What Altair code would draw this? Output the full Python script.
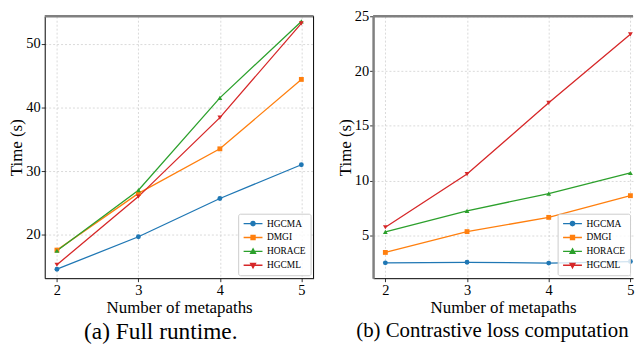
import altair as alt
import pandas as pd

# ---------------- data ----------------
metapaths = [2, 3, 4, 5]
methods = ["HGCMA", "DMGI", "HORACE", "HGCML"]

full_hgcma = [14.6, 19.7, 25.7, 31.0]
full_dmgi = [17.6, 26.5, 33.5, 44.4]
full_horace = [17.5, 27.0, 41.5, 53.5]
full_hgcml = [15.3, 26.0, 38.4, 53.2]

loss_hgcma = [2.50, 2.55, 2.48, 2.62]
loss_dmgi = [3.45, 5.35, 6.65, 8.63]
loss_horace = [5.32, 7.25, 8.82, 10.70]
loss_hgcml = [5.75, 10.60, 17.10, 23.35]

left_yticks = [20, 30, 40, 50]
right_yticks = [5, 10, 15, 20, 25]

colors = ["#1f77b4", "#ff7f0e", "#2ca02c", "#d62728"]
marker_shapes = ["circle", "square", "triangle-up", "triangle-down"]
legend_shapes = [
    "M-1.9,0H1.9M0.42,0A0.42,0.42,0,1,1,-0.42,0A0.42,0.42,0,1,1,0.42,0Z",
    "M-1.9,0H1.9M-0.4,-0.4H0.4V0.4H-0.4Z",
    "M-1.9,0H1.9M0,-0.5L0.48,0.38H-0.48Z",
    "M-1.9,0H1.9M0,0.5L0.48,-0.38H-0.48Z",
]

FONT = "Liberation Serif"
PLOT_H = 264


def make_df(series_lists):
    rows = []
    for m, vals in zip(methods, series_lists):
        for x, v in zip(metapaths, vals):
            rows.append({"x": x, "time": v, "series": m, "method": m})
    return pd.DataFrame(rows)


def panel(df, xdomain, ydomain, yticks, width, caption, cap_size, cap_anchor,
          cap_dx, ydom_color, ydom_width, right_spine):
    base = alt.Chart(df)
    x = alt.X("x:Q", scale=alt.Scale(domain=xdomain, nice=False, zero=False),
              axis=alt.Axis(values=metapaths, format="d", title="Number of metapaths",
                            titlePadding=3))
    y = alt.Y("time:Q", scale=alt.Scale(domain=ydomain, nice=False, zero=False),
              axis=alt.Axis(values=yticks, title="Time (s)", domainColor=ydom_color,
                            domainWidth=ydom_width, titlePadding=0, labelPadding=1))
    color = alt.Color("series:N", scale=alt.Scale(domain=methods, range=colors), legend=None)
    lines = base.mark_line(strokeWidth=1.3).encode(x=x, y=y, color=color)
    points = base.mark_point(filled=True, size=24, opacity=1).encode(
        x=x, y=y, color=color,
        shape=alt.Shape("series:N", scale=alt.Scale(domain=methods, range=marker_shapes), legend=None),
    )
    leg = alt.Legend(
        title=None, orient="bottom-right", offset=3, padding=4,
        symbolSize=100, symbolStrokeWidth=1.4, symbolOpacity=1, symbolOffset=5,
        labelFont=FONT, labelFontSize=9.5, labelColor="black", labelOffset=8,
        rowPadding=3, fillColor="rgba(255,255,255,0.8)", strokeColor="#cccccc",
        cornerRadius=2,
    )
    legend_layer = base.mark_point(filled=True, opacity=0).encode(
        x=x, y=y,
        fill=alt.Fill("method:N", scale=alt.Scale(domain=methods, range=colors), legend=leg),
        stroke=alt.Stroke("method:N", scale=alt.Scale(domain=methods, range=colors), legend=leg),
        shape=alt.Shape("method:N", scale=alt.Scale(domain=methods, range=legend_shapes), legend=leg),
    )
    frame = alt.Chart(alt.Data(values=[{}]))
    top = frame.mark_rule(color="#808080", strokeWidth=2.5).encode(y=alt.value(0))
    layers = [lines, points, legend_layer, top]
    if right_spine:
        layers.append(frame.mark_rule(color="black", strokeWidth=1).encode(x=alt.value(width)))
    return alt.layer(*layers).resolve_scale(
        shape="independent", fill="independent", stroke="independent"
    ).properties(
        width=width, height=PLOT_H,
        title=alt.Title(caption, orient="bottom", anchor=cap_anchor, frame="group",
                        dx=cap_dx, offset=4, fontSize=cap_size, font=FONT,
                        fontWeight="normal", color="black"),
    )


left = panel(make_df([full_hgcma, full_dmgi, full_horace, full_hgcml]),
             [1.85, 5.15], [13.19, 54.31], left_yticks, 271,
             "(a) Full runtime.", 23.5, "middle", -18.5, "black", 1, True)
right = panel(make_df([loss_hgcma, loss_dmgi, loss_horace, loss_hgcml]),
              [1.85, 5.032], [1.1, 25], right_yticks, 262,
              "(b) Contrastive loss computation", 21, "start", -17, "#808080", 2.5, False)

chart = alt.hconcat(left, right, spacing=21).resolve_scale(
    color="independent", shape="independent", fill="independent", stroke="independent"
).resolve_legend(
    shape="independent", fill="independent", stroke="independent"
).properties(
    padding={"top": -1, "left": 0, "right": 0, "bottom": 0}
).configure_view(stroke=None).configure_axis(
    labelFont=FONT, labelFontSize=14.5, labelColor="black",
    titleFont=FONT, titleFontSize=17, titleColor="black", titleFontWeight="normal",
    tickColor="black", tickSize=3.5, tickWidth=0.8,
    domainColor="black", domainWidth=1,
    grid=True, gridColor="#d0d0d0", gridDash=[2, 2], gridWidth=0.8,
    labelPadding=2,
)

chart.save("out.html", embed_options={"renderer": "svg", "actions": False})
